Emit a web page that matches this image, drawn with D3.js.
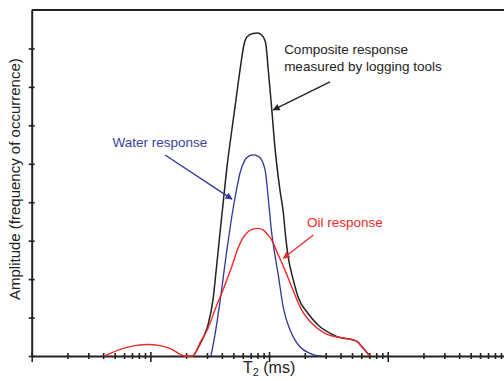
<!DOCTYPE html>
<html>
<head>
<meta charset="utf-8">
<script src="https://cdn.jsdelivr.net/npm/d3@7"></script>
<style>
  body { margin: 0; background: #fff; }
  svg { display: block; font-family: "Liberation Sans", Arial, sans-serif; }
</style>
</head>
<body>
<div id="chart"></div>
<script>
// T2 (ms) sample positions and amplitudes
const oilT = [0.41, 0.59, 0.74, 0.95, 1.2, 1.46, 1.96, 2.29, 2.38, 2.62, 3.06, 3.5, 4.25, 4.87, 5.47, 6.64, 7.32, 8.06, 8.89, 9.79, 10.5, 11.95, 13.6, 15.5, 18.8, 22.9, 29.6, 39.6, 48, 55, 61.8, 70.8];
const oilAmp = [0, 0.2, 0.27, 0.3, 0.27, 0.2, 0, 0, 0.07, 0.34, 0.72, 1.2, 1.85, 2.34, 2.8, 3.23, 3.3, 3.32, 3.28, 3.15, 3.02, 2.63, 2.24, 1.8, 1.2, 0.85, 0.59, 0.48, 0.44, 0.38, 0.21, 0];

const waterT = [3.24, 3.5, 3.86, 4.39, 5.16, 5.42, 5.69, 6.27, 6.77, 7.36, 8.06, 8.66, 9.36, 9.79, 10.5, 11.2, 11.95, 13.2, 15.0, 16.5, 18.2, 22.1, 25.3, 27.9];
const waterAmp = [0, 0.55, 1.41, 2.71, 4.11, 4.45, 4.76, 5.1, 5.2, 5.23, 5.2, 5.1, 4.75, 4.19, 3.23, 2.63, 2.11, 1.25, 0.68, 0.42, 0.24, 0.07, 0.01, 0];

const compT = [2.29, 2.38, 2.62, 2.83, 3.06, 3.37, 3.61, 3.86, 4.13, 4.42, 4.82, 5.26, 5.74, 6.14, 6.51, 7.32, 7.98, 8.66, 9.36, 9.85, 10.5, 11.2, 12.35, 13.2, 13.8, 14.5, 16.0, 17.6, 21.4, 26.0, 33.7, 39.6, 48, 55, 61.8, 70.8];
const compAmp = [0, 0.07, 0.31, 0.52, 0.81, 1.46, 2.32, 3.2, 4.06, 4.92, 5.8, 6.66, 7.52, 8.09, 8.3, 8.39, 8.4, 8.35, 8.14, 7.44, 6.48, 5.44, 4.32, 3.72, 3.1, 2.58, 1.98, 1.53, 1.1, 0.8, 0.57, 0.48, 0.44, 0.38, 0.21, 0];

const yTicks = [0, 1, 2, 3, 4, 5, 6, 7, 8];
const xMajor = [0.1, 1, 10, 100, 1000];

const W = 504, H = 381;

var svg = d3.select("#chart")
    .append("svg")
    .attr("width", W)
    .attr("height", H);

var x = d3.scaleLog().domain([0.1, 1000]).range([31.7, 506.4]);
var y = d3.scaleLinear().domain([0, 9]).range([356, 10]);

// all minor ticks 2..9 in each decade
var xMinor = [];
xMajor.slice(0, -1).forEach(function (d) {
    for (var k = 2; k <= 9; k++) xMinor.push(d * k);
});

// arrowheads
var defs = svg.append("defs");
[["black", "#222"], ["blue", "#2f3599"], ["red", "#ee2a2a"]].forEach(function (m) {
    defs.append("marker")
        .attr("id", "arr-" + m[0])
        .attr("viewBox", "0 0 10 10")
        .attr("refX", 9).attr("refY", 5)
        .attr("markerWidth", 8).attr("markerHeight", 7)
        .attr("markerUnits", "userSpaceOnUse")
        .attr("orient", "auto")
        .append("path")
        .attr("d", "M0,0 L10,5 L0,10 z")
        .attr("fill", m[1]);
});

// top border
svg.append("line")
    .attr("x1", x(0.1)).attr("x2", W)
    .attr("y1", y(9)).attr("y2", y(9))
    .attr("stroke", "#222").attr("stroke-width", 2);

// left axis
var yAxis = svg.append("g")
    .attr("transform", "translate(" + x(0.1) + ",0)")
    .call(d3.axisLeft(y).tickValues(yTicks).tickFormat("").tickSizeOuter(0));
yAxis.select(".domain").attr("stroke", "#222").attr("stroke-width", 2);
yAxis.selectAll(".tick line").attr("x1", -3).attr("x2", 3).attr("stroke", "#222").attr("stroke-width", 1.6);

// bottom axis: minor ticks
var xAxisMinor = svg.append("g")
    .attr("transform", "translate(0," + y(0) + ")")
    .call(d3.axisBottom(x).tickValues(xMinor).tickFormat("").tickSizeOuter(0));
xAxisMinor.select(".domain").attr("stroke", "#222").attr("stroke-width", 2);
xAxisMinor.selectAll(".tick line").attr("y1", -3).attr("y2", 3).attr("stroke", "#222").attr("stroke-width", 1.6);

// bottom axis: decade ticks
var xAxisMajor = svg.append("g")
    .attr("transform", "translate(0," + y(0) + ")")
    .call(d3.axisBottom(x).tickValues(xMajor).tickFormat("").tickSizeOuter(0));
xAxisMajor.select(".domain").remove();
xAxisMajor.selectAll(".tick line").attr("y1", -4).attr("y2", 6).attr("stroke", "#222").attr("stroke-width", 1.6);

// curves
var line = d3.line()
    .x(function (d) { return x(d[0]); })
    .y(function (d) { return y(d[1]); })
    .curve(d3.curveMonotoneX);

function drawSeries(ts, amps, color, width) {
    svg.append("path")
        .datum(ts.map(function (t, i) { return [t, amps[i]]; }))
        .attr("d", line)
        .attr("fill", "none")
        .attr("stroke", color)
        .attr("stroke-width", width)
        .attr("stroke-linejoin", "round");
}

drawSeries(compT, compAmp, "#222", 1.5);
drawSeries(waterT, waterAmp, "#2f3599", 1.3);
drawSeries(oilT, oilAmp, "#ee2a2a", 1.4);

// annotations (anchored in data coordinates)
function arrow(t0, a0, t1, a1, color, name) {
    svg.append("line")
        .attr("x1", x(t0)).attr("y1", y(a0))
        .attr("x2", x(t1)).attr("y2", y(a1))
        .attr("stroke", color).attr("stroke-width", 1.3)
        .attr("marker-end", "url(#arr-" + name + ")");
}

svg.append("text")
    .attr("x", x(13.4)).attr("y", y(7.86))
    .attr("font-size", 13.5).attr("fill", "#222")
    .text("Composite response");
svg.append("text")
    .attr("x", x(13.4)).attr("y", y(7.41))
    .attr("font-size", 13.5).attr("fill", "#222")
    .text("measured by logging tools");
arrow(32.6, 7.13, 10.85, 6.40, "#222", "black");

svg.append("text")
    .attr("x", x(0.48)).attr("y", y(5.44))
    .attr("font-size", 13.5).attr("fill", "#3a3f9e")
    .text("Water response");
arrow(1.33, 5.23, 4.87, 4.08, "#2f3599", "blue");

svg.append("text")
    .attr("x", x(20.9)).attr("y", y(3.36))
    .attr("font-size", 13.5).attr("fill", "#ee2a2a")
    .text("Oil response");
arrow(23.6, 3.15, 13.2, 2.54, "#ee2a2a", "red");

// axis titles
var xt = svg.append("text")
    .attr("x", x(10)).attr("y", 373)
    .attr("text-anchor", "middle")
    .attr("font-size", 16).attr("fill", "#222");
xt.append("tspan").text("T");
xt.append("tspan").attr("font-size", 11).attr("dy", 3).text("2");
xt.append("tspan").attr("dy", -3).text(" (ms)");

svg.append("text")
    .attr("transform", "translate(20," + y(4.6) + ") rotate(-90)")
    .attr("text-anchor", "middle")
    .attr("font-size", 15).attr("fill", "#222")
    .text("Amplitude (frequency of occurrence)");
</script>
</body>
</html>
